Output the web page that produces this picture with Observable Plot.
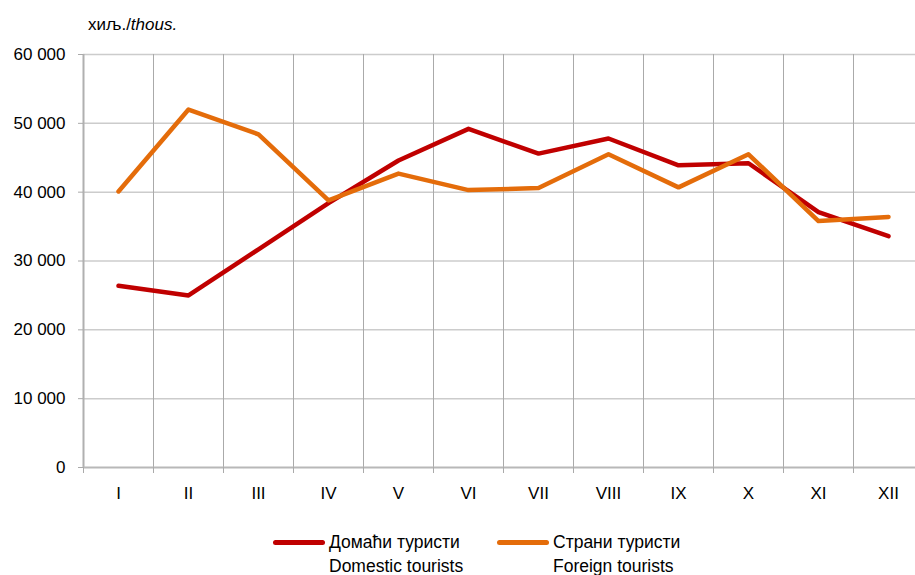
<!DOCTYPE html>
<html>
<head>
<meta charset="utf-8">
<script src="https://cdn.jsdelivr.net/npm/d3@7"></script>
<script src="https://cdn.jsdelivr.net/npm/@observablehq/plot@0.6"></script>
<style>
  body { margin: 0; background: #fff; font-family: "Liberation Sans", Arial, sans-serif; color: #000; }
  #wrap { position: relative; width: 915px; height: 575px; overflow: hidden; }
  #title { height: 40px; line-height: 50px; padding-left: 88px; font-size: 17px; white-space: nowrap; }
  #legend { position: relative; height: 55px; font-size: 17.5px; }
  .item { position: absolute; top: 10px; display: flex; align-items: flex-start; }
  .swatch { width: 52px; height: 5px; border-radius: 3px; margin-top: 10px; margin-right: 4px; }
  .txt { line-height: 24px; white-space: nowrap; }
</style>
</head>
<body>
<div id="wrap">
  <div id="title">хиљ./<i>thous.</i></div>
  <div id="chart"></div>
  <div id="legend"></div>
</div>
<script>
const months = ["I", "II", "III", "IV", "V", "VI", "VII", "VIII", "IX", "X", "XI", "XII"];
const domestic = [26400, 25000, 31700, 38400, 44600, 49200, 45600, 47800, 43900, 44200, 37100, 33600];
const foreign = [40100, 52000, 48400, 38800, 42700, 40300, 40600, 45500, 40700, 45500, 35800, 36400];
const yTicks = [0, 10000, 20000, 30000, 40000, 50000, 60000];
const seriesLabels = [
  ["Домаћи туристи", "Domestic tourists"],
  ["Страни туристи", "Foreign tourists"]
];
const colors = ["#C00000", "#E46C0A"];

const monthIdx = months.map((_, i) => i + 1);
const bounds = months.map((_, i) => i + 0.5).concat([months.length + 0.5]);
const innerBounds = bounds.slice(1, -1);
const fmt = d => d3.format(",")(d).replace(/,/g, " ");

const chart = Plot.plot({
  width: 915,
  height: 480,
  marginLeft: 83,
  marginRight: 0,
  marginTop: 14,
  marginBottom: 53,
  style: { fontSize: "17px", fontFamily: "Liberation Sans, Arial, sans-serif", color: "#000", background: "#fff", overflow: "visible" },
  x: { domain: [0.5, 12.5], range: [83, 923], label: null },
  y: { domain: [0, 60000], range: [427, 14], label: null },
  marks: [
    Plot.gridY(yTicks.slice(1), { stroke: "#cccccc", strokeOpacity: 1, strokeWidth: 1.5 }),
    Plot.gridX(innerBounds, { stroke: "#aaaaaa", strokeOpacity: 1, strokeWidth: 1 }),
    Plot.ruleX([0.5], { stroke: "#b0b0b0", strokeWidth: 2 }),
    Plot.ruleY([0], { stroke: "#b8b8b8", strokeWidth: 2 }),
    Plot.axisY(yTicks, { tickSize: 5, tickPadding: 13, tickFormat: fmt, stroke: "#aaaaaa", fill: "#000", label: null }),
    Plot.axisX(bounds, { tickSize: 6, tickPadding: 0, tickFormat: () => "", stroke: "#aaaaaa", label: null }),
    Plot.axisX(monthIdx, { tickSize: 0, tickPadding: 19, tickFormat: i => months[i - 1], fill: "#000", label: null }),
    Plot.line(domestic, { x: (d, i) => i + 1, y: d => d, stroke: colors[0], strokeWidth: 4.5, strokeLinecap: "round", strokeLinejoin: "round" }),
    Plot.line(foreign, { x: (d, i) => i + 1, y: d => d, stroke: colors[1], strokeWidth: 4.5, strokeLinecap: "round", strokeLinejoin: "round" })
  ]
});
document.getElementById("chart").appendChild(chart);

const legend = document.getElementById("legend");
const lefts = [273, 497];
seriesLabels.forEach((lab, k) => {
  const it = document.createElement("div");
  it.className = "item";
  it.style.left = lefts[k] + "px";
  const sw = document.createElement("div");
  sw.className = "swatch";
  sw.style.background = colors[k];
  const tx = document.createElement("div");
  tx.className = "txt";
  tx.innerHTML = lab[0] + "<br>" + lab[1];
  it.appendChild(sw);
  it.appendChild(tx);
  legend.appendChild(it);
});
</script>
</body>
</html>
